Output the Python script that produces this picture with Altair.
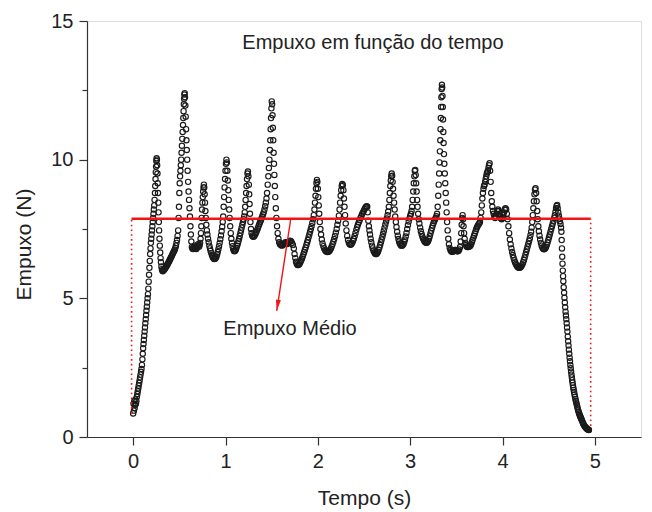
import altair as alt
import pandas as pd

# ---- data: (tempo [s], empuxo [N]) ----
subida = [(0.000,0.85),(0.004,1.2),(0.008,0.95),(0.012,1.3),(0.016,1.05),(0.020,1.15),(0.025,1.35),(0.030,1.2),
          (0.035,1.3),(0.040,1.45),(0.045,1.55),(0.050,1.65),(0.055,1.75),(0.060,1.85),(0.065,1.95),(0.070,2.05),
          (0.075,2.15),(0.080,2.25),(0.085,2.35),(0.090,2.45),(0.095,2.6),(0.100,2.8),(0.104,3.0),(0.108,3.2),
          (0.112,3.35),(0.116,3.5),(0.120,3.65),(0.124,3.8),(0.128,3.95),(0.132,4.1),(0.136,4.25),(0.140,4.4),
          (0.144,4.55),(0.148,4.7),(0.152,4.85),(0.156,5.0),(0.160,5.15),(0.164,5.35),(0.168,5.6),(0.172,5.85),
          (0.176,6.1),(0.180,6.35),(0.184,6.6),(0.188,6.8),(0.192,7.0),(0.196,7.15),(0.200,7.3),(0.204,7.45),
          (0.208,7.6),(0.212,7.75),(0.216,7.9),(0.220,8.05),(0.224,8.2),(0.228,8.35),(0.232,8.55)]

pico_1 = [(0.236,8.8),(0.239,9.05),(0.242,9.3),(0.245,9.55),(0.248,9.75),(0.251,9.95),(0.254,10.05),(0.257,10.0),
          (0.260,9.8),(0.263,9.5),(0.266,9.15),(0.269,8.8),(0.272,8.45),(0.275,8.1),(0.278,7.75),(0.281,7.45),
          (0.285,7.15),(0.289,6.9),(0.293,6.65),(0.297,6.45),(0.301,6.3),(0.306,6.15),(0.311,6.05),(0.316,6.0),
          (0.321,5.98),(0.326,6.0),(0.331,6.02),(0.337,6.04),(0.343,6.07),(0.349,6.1),(0.355,6.13),(0.361,6.16),
          (0.367,6.2),(0.373,6.23),(0.379,6.27),(0.385,6.31),(0.391,6.35),(0.397,6.39),(0.403,6.43),(0.409,6.47),
          (0.415,6.51),(0.421,6.55),(0.427,6.6),(0.433,6.64),(0.439,6.68),(0.445,6.72),(0.451,6.76),(0.457,6.82),
          (0.463,6.9),(0.469,7.0),(0.475,7.1),(0.481,7.25),(0.487,7.45)]

pico_2 = [(0.492,7.9),(0.496,8.3),(0.500,8.8),(0.504,9.15),(0.508,9.4),(0.512,9.6),(0.516,9.8),(0.520,10.0),
          (0.524,10.25),(0.528,10.5),(0.532,10.75),(0.536,11.0),(0.540,11.25),(0.543,11.5),(0.546,11.75),
          (0.549,12.0),(0.552,12.2),(0.555,12.35),(0.558,12.4),(0.561,12.25),(0.565,11.95),(0.569,11.55),
          (0.573,11.1),(0.577,10.7),(0.581,10.35),(0.585,10.0),(0.590,9.6),(0.595,9.2),(0.600,8.85),(0.605,8.55),
          (0.610,8.25),(0.615,7.95),(0.620,7.6),(0.625,7.3),(0.630,7.05)]

pico_3 = [(0.636,6.85),(0.642,6.8),(0.648,6.78),(0.654,6.82),(0.660,6.86),(0.666,6.9),(0.672,6.85),(0.678,6.8),
          (0.684,6.78),(0.690,6.82),(0.696,6.88),(0.702,6.95),(0.708,6.9),(0.714,6.86),(0.720,6.92),(0.725,7.0),
          (0.730,7.15),(0.734,7.35),(0.738,7.6),(0.742,7.9),(0.746,8.2),(0.750,8.45),(0.754,8.65),(0.758,8.85),
          (0.762,9.0),(0.766,9.1),(0.770,9.0),(0.774,8.75),(0.778,8.45),(0.782,8.15),(0.787,7.9),(0.792,7.65),
          (0.798,7.45),(0.804,7.3),(0.811,7.15),(0.818,7.02),(0.825,6.9),(0.832,6.8),(0.839,6.71),(0.846,6.63),
          (0.853,6.56),(0.860,6.5),(0.867,6.46),(0.874,6.43),(0.881,6.42),(0.888,6.43),(0.895,6.46),(0.902,6.51),
          (0.909,6.58),(0.916,6.67),(0.923,6.77),(0.930,6.88),(0.937,7.0),(0.944,7.13),(0.951,7.27),(0.958,7.42),
          (0.964,7.58),(0.970,7.75)]

pico_4_5 = [(0.975,7.95),(0.980,8.3),(0.985,8.65),(0.990,9.0),(0.995,9.3),(1.000,9.6),(1.005,9.85),(1.010,10.0),
            (1.015,9.9),(1.020,9.6),(1.025,9.25),(1.030,8.9),(1.035,8.55),(1.040,8.2),(1.045,7.9),(1.051,7.6),
            (1.057,7.35),(1.063,7.15),(1.070,7.0),(1.077,6.88),(1.084,6.78),(1.091,6.72),(1.098,6.7),(1.105,6.72),
            (1.112,6.76),(1.119,6.82),(1.126,6.9),(1.133,6.98),(1.140,7.06),(1.147,7.15),(1.154,7.25),(1.161,7.35),
            (1.168,7.45),(1.175,7.55),(1.182,7.65),(1.189,7.75),(1.196,7.85),(1.202,7.95),(1.208,8.1),(1.213,8.3),
            (1.218,8.55),(1.223,8.8),(1.228,9.05),(1.233,9.3),(1.238,9.5),(1.243,9.57),(1.248,9.4),(1.253,9.1),
            (1.257,8.75),(1.261,8.4),(1.265,8.05),(1.270,7.75),(1.276,7.5),(1.282,7.35),(1.289,7.27),(1.296,7.23),
            (1.303,7.22),(1.310,7.24),(1.318,7.28),(1.326,7.33),(1.334,7.39),(1.342,7.46),(1.350,7.53),(1.358,7.6),
            (1.366,7.67),(1.374,7.74),(1.382,7.81),(1.390,7.88),(1.398,7.95),(1.406,8.02),(1.414,8.1),(1.422,8.2),
            (1.430,8.32),(1.437,8.45),(1.444,8.6)]

pico_6 = [(1.450,8.8),(1.457,9.1),(1.464,9.4),(1.470,9.7),(1.476,10.0),(1.481,10.35),(1.485,10.7),(1.489,11.1),
          (1.493,11.5),(1.497,11.85),(1.501,12.1),(1.505,12.0),(1.509,11.6),(1.513,11.15),(1.517,10.7),(1.521,10.25),
          (1.525,9.85),(1.529,9.45),(1.534,9.05),(1.539,8.65),(1.545,8.25),(1.551,7.9),(1.558,7.6),(1.565,7.35),
          (1.573,7.15),(1.581,7.02),(1.590,6.95),(1.600,6.92),(1.610,6.9),(1.620,6.92),(1.630,6.95),(1.640,7.0),
          (1.650,7.02),(1.660,7.0),(1.670,6.96),(1.680,7.0),(1.690,7.05),(1.700,7.08),(1.710,7.06),(1.720,7.0),
          (1.730,6.92)]

pico_7_8 = [(1.740,6.8),(1.748,6.6),(1.756,6.45),(1.764,6.32),(1.772,6.25),(1.780,6.2),(1.788,6.2),(1.796,6.22),
            (1.804,6.26),(1.812,6.31),(1.820,6.37),(1.828,6.44),(1.836,6.51),(1.844,6.59),(1.852,6.67),(1.860,6.75),
            (1.868,6.83),(1.876,6.92),(1.884,7.01),(1.892,7.1),(1.900,7.2),(1.908,7.3),(1.916,7.4),(1.924,7.5),
            (1.932,7.6),(1.940,7.72),(1.948,7.85),(1.956,8.0),(1.963,8.2),(1.969,8.45),(1.975,8.7),(1.980,8.95),
            (1.985,9.15),(1.990,9.27),(1.995,9.2),(2.000,8.95),(2.005,8.65),(2.010,8.35),(2.015,8.05),(2.021,7.75),
            (2.028,7.5),(2.035,7.3),(2.043,7.12),(2.051,6.98),(2.060,6.88),(2.069,6.8),(2.078,6.74),(2.087,6.7),
            (2.096,6.68),(2.105,6.67),(2.114,6.68),(2.123,6.7),(2.132,6.74),(2.141,6.8),(2.150,6.87),(2.159,6.95),
            (2.168,7.04),(2.177,7.14),(2.186,7.25),(2.195,7.37),(2.204,7.5),(2.212,7.65),(2.220,7.8),(2.228,7.98),
            (2.235,8.2),(2.241,8.45),(2.247,8.7),(2.253,8.9),(2.259,9.05),(2.265,9.12),(2.271,9.08),(2.277,8.9),
            (2.283,8.6),(2.289,8.3),(2.295,8.0),(2.302,7.7),(2.310,7.45),(2.318,7.25),(2.327,7.1),(2.336,7.0),
            (2.345,6.95),(2.354,6.93),(2.363,6.95),(2.372,7.0)]

pico_9_11 = [(2.381,7.07),(2.390,7.15),(2.399,7.25),(2.408,7.36),(2.417,7.47),(2.426,7.57),(2.435,7.66),(2.444,7.74),
             (2.453,7.82),(2.462,7.9),(2.471,7.97),(2.480,8.04),(2.489,8.1),(2.498,8.16),(2.507,8.22),(2.515,8.27),
             (2.522,8.3),(2.529,8.32),(2.535,8.3),(2.541,8.1),(2.547,7.8),(2.553,7.6),(2.559,7.45),(2.565,7.3),
             (2.572,7.15),(2.579,7.02),(2.587,6.9),(2.595,6.8),(2.603,6.72),(2.611,6.66),(2.619,6.62),(2.627,6.6),
             (2.635,6.6),(2.643,6.63),(2.651,6.68),(2.659,6.75),(2.667,6.83),(2.675,6.92),(2.683,7.02),(2.691,7.12),
             (2.699,7.22),(2.707,7.33),(2.715,7.44),(2.723,7.55),(2.731,7.66),(2.739,7.77),(2.747,7.88),(2.755,8.0),
             (2.762,8.13),(2.769,8.3),(2.775,8.55),(2.780,8.8),(2.785,9.05),(2.790,9.25),(2.795,9.4),(2.800,9.5),
             (2.805,9.42),(2.810,9.2),(2.815,8.95),(2.820,8.7),(2.826,8.45),(2.832,8.2),(2.838,7.95),(2.845,7.75),
             (2.852,7.57),(2.859,7.4),(2.866,7.26),(2.873,7.14),(2.880,7.05),(2.888,6.98),(2.896,6.93),(2.904,6.9),
             (2.912,6.9),(2.920,6.92),(2.928,6.96),(2.936,7.03),(2.944,7.12),(2.952,7.23),(2.960,7.36),(2.968,7.5),
             (2.976,7.64),(2.984,7.77),(2.992,7.88),(3.000,7.97),(3.008,8.05),(3.015,8.15),(3.021,8.3),(3.027,8.55),
             (3.033,8.85),(3.039,9.15),(3.045,9.4),(3.050,9.6),(3.055,9.63),(3.060,9.45),(3.065,9.15),(3.070,8.85),
             (3.075,8.55),(3.080,8.3),(3.086,8.05),(3.093,7.85),(3.100,7.7),(3.108,7.55),(3.116,7.42),(3.124,7.32),
             (3.132,7.23),(3.140,7.16),(3.148,7.1),(3.156,7.05),(3.164,7.02),(3.172,7.0),(3.180,7.0),(3.188,7.03),
             (3.196,7.08),(3.204,7.15),(3.212,7.24),(3.220,7.34),(3.228,7.44),(3.236,7.54),(3.244,7.63),(3.252,7.71),
             (3.260,7.78),(3.268,7.84),(3.276,7.9),(3.284,7.96),(3.291,8.05)]

pico_12_13 = [(3.298,8.3),(3.304,8.7),(3.309,9.1),(3.314,9.5),(3.318,9.9),(3.322,10.3),(3.326,10.7),(3.329,11.1),
              (3.332,11.5),(3.335,11.9),(3.338,12.25),(3.341,12.55),(3.344,12.7),(3.347,12.6),(3.350,12.3),
              (3.353,11.9),(3.356,11.45),(3.359,11.0),(3.362,10.6),(3.366,10.2),(3.370,9.85),(3.375,9.5),
              (3.380,9.15),(3.385,8.8),(3.390,8.45),(3.395,8.1),(3.400,7.75),(3.406,7.45),(3.413,7.15),(3.420,6.95),
              (3.428,6.82),(3.436,6.74),(3.444,6.7),(3.452,6.68),(3.460,6.68),(3.468,6.7),(3.476,6.72),(3.484,6.74),
              (3.492,6.74),(3.500,6.72),(3.508,6.7),(3.516,6.7),(3.524,6.72),(3.532,6.76),(3.540,6.85),(3.547,7.05),
              (3.553,7.35),(3.558,7.65),(3.563,7.9),(3.568,8.0),(3.573,7.85),(3.578,7.6),(3.584,7.35),(3.590,7.15),
              (3.597,7.0),(3.604,6.92),(3.612,6.87),(3.620,6.85),(3.628,6.85),(3.636,6.86),(3.644,6.88),(3.652,6.9),
              (3.660,6.95),(3.668,7.02),(3.676,7.1),(3.684,7.18),(3.692,7.26),(3.700,7.34),(3.708,7.42),(3.716,7.5),
              (3.724,7.56),(3.732,7.62),(3.740,7.66),(3.748,7.7),(3.756,7.75),(3.763,7.9),(3.770,8.1),(3.776,8.35),
              (3.782,8.6),(3.788,8.8),(3.794,8.95),(3.800,9.05),(3.806,9.1),(3.812,9.2),(3.818,9.3),(3.824,9.4),
              (3.830,9.5),(3.836,9.55),(3.842,9.6),(3.848,9.7),(3.854,9.8),(3.860,9.87),(3.866,9.6),(3.872,9.2),
              (3.878,8.8),(3.884,8.5),(3.890,8.3),(3.897,8.15),(3.904,8.05),(3.912,7.95),(3.920,7.9),(3.928,7.95),
              (3.936,8.05),(3.944,8.15),(3.952,8.2),(3.960,8.15),(3.968,8.05),(3.976,7.95),(3.984,7.88),(3.992,7.85),
              (4.000,7.9),(4.008,8.0),(4.016,8.1),(4.024,8.2),(4.032,8.25),(4.040,8.2),(4.048,8.05),(4.056,7.85),
              (4.064,7.6),(4.072,7.35),(4.080,7.12)]

pico_14_15 = [(4.088,6.95),(4.096,6.8),(4.104,6.67),(4.112,6.56),(4.120,6.46),(4.128,6.37),(4.136,6.3),(4.144,6.24),
              (4.152,6.19),(4.160,6.15),(4.168,6.12),(4.176,6.1),(4.184,6.1),(4.192,6.11),(4.200,6.14),(4.208,6.18),
              (4.216,6.23),(4.224,6.3),(4.232,6.38),(4.240,6.47),(4.248,6.57),(4.256,6.67),(4.264,6.77),(4.272,6.87),
              (4.280,6.97),(4.288,7.07),(4.296,7.17),(4.303,7.28),(4.310,7.4),(4.316,7.55),(4.322,7.75),(4.328,8.0),
              (4.334,8.25),(4.340,8.5),(4.346,8.75),(4.352,8.92),(4.358,8.97),(4.364,8.8),(4.370,8.5),(4.376,8.15),
              (4.382,7.85),(4.388,7.6),(4.394,7.42),(4.401,7.26),(4.408,7.12),(4.416,7.0),(4.424,6.9),(4.432,6.83),
              (4.440,6.79),(4.448,6.77),(4.456,6.78),(4.464,6.81),(4.472,6.86),(4.480,6.93),(4.488,7.01),(4.496,7.1),
              (4.504,7.2),(4.512,7.3),(4.520,7.4),(4.528,7.5),(4.536,7.6),(4.544,7.7),(4.552,7.8),(4.560,7.9),
              (4.567,8.0),(4.574,8.12),(4.580,8.25),(4.586,8.33),(4.592,8.37)]

queda = [(4.598,8.25),(4.604,8.1),(4.610,7.98),(4.616,7.88),(4.622,7.78),(4.628,7.68),(4.634,7.55),(4.638,7.4),
         (4.641,7.1),(4.644,6.8),(4.647,6.5),(4.650,6.25),(4.653,6.0),(4.656,5.8),(4.659,5.62),(4.663,5.4),
         (4.667,5.2),(4.671,5.02),(4.675,4.85),(4.679,4.68),(4.683,4.52),(4.687,4.38),(4.691,4.25),(4.695,4.1),
         (4.699,3.95),(4.703,3.8),(4.707,3.62),(4.711,3.45),(4.715,3.3),(4.719,3.15),(4.723,3.0),(4.727,2.86),
         (4.731,2.73),(4.735,2.6),(4.739,2.48),(4.743,2.36),(4.747,2.25),(4.751,2.15),(4.755,2.05),(4.759,1.96),
         (4.763,1.87),(4.767,1.78),(4.771,1.7),(4.775,1.62),(4.780,1.53),(4.785,1.45),(4.790,1.37),(4.795,1.3),
         (4.800,1.23),(4.805,1.16),(4.810,1.09),(4.815,1.02),(4.820,0.96),(4.825,0.9),(4.830,0.85),(4.835,0.8),
         (4.840,0.76),(4.845,0.72),(4.850,0.68),(4.855,0.64),(4.860,0.6),(4.866,0.55),(4.872,0.5),(4.878,0.46),
         (4.884,0.42),(4.890,0.39),(4.896,0.36),(4.902,0.34),(4.908,0.32),(4.914,0.3),(4.920,0.28),(4.926,0.27),
         (4.932,0.26),(4.936,0.25)]

empuxo_medio = 7.87
t_inicio, t_fim = -0.017, 4.955
f_base_inicio, f_base_fim = 0.85, 0.4
seta = {"t0": 1.707, "f0": 7.87, "t1": 1.555, "f1": 4.55}
titulo_interno = {"t": 2.597, "f": 13.98, "texto": "Empuxo em função do tempo"}
rotulo_medio = {"t": 1.699, "f": 3.68, "texto": "Empuxo Médio"}
x_ticks = [0, 0.5, 1, 1.5, 2, 2.5, 3, 3.5, 4, 4.5, 5]
y_ticks = [0, 2.5, 5, 7.5, 10, 12.5, 15]

FONT = "Liberation Sans"
RED = "#f01414"
INK = "#1a1a1a"

pontos = subida + pico_1 + pico_2 + pico_3 + pico_4_5 + pico_6 + pico_7_8 + pico_9_11 + pico_12_13 + pico_14_15 + queda
df = pd.DataFrame(pontos, columns=["tempo", "empuxo"])

x_scale = alt.Scale(domain=[-0.5, 5.5], nice=False, zero=False)
y_scale = alt.Scale(domain=[0, 15], nice=False, zero=True)

x_axis = alt.Axis(
    values=x_ticks, format="d", labelExpr="datum.value % 1 ? '' : datum.label", grid=False,
    tickSize={"condition": {"test": "datum.value % 1 !== 0", "value": 4}, "value": 8},
    tickColor="#333333", tickWidth=1.2, domainColor="#333333", domainWidth=1.2,
    labelFont=FONT, labelFontSize=20, labelColor="#222222", labelPadding=6, labelFlush=False,
    title="Tempo (s)", titleFont=FONT, titleFontSize=21, titleFontWeight="normal", titleColor="#222222",
    titleY=67, titleBaseline="alphabetic",
)
y_axis = alt.Axis(
    values=y_ticks, format="d", labelExpr="datum.value % 5 ? '' : datum.label", grid=False,
    tickSize={"condition": {"test": "datum.value % 5 !== 0", "value": 5}, "value": 8},
    tickColor="#333333", tickWidth=1.2, domainColor="#333333", domainWidth=1.2,
    labelFont=FONT, labelFontSize=20, labelColor="#222222", labelPadding=6, labelFlush=False,
    title="Empuxo (N)", titleFont=FONT, titleFontSize=21, titleFontWeight="normal", titleColor="#222222",
    titleX=-57, titleY=223, titleBaseline="alphabetic", titleAngle=-90,
)

scatter = alt.Chart(df).mark_point(
    shape="circle", filled=False, size=28, color=INK, strokeWidth=1.15, opacity=1
).encode(
    x=alt.X("tempo:Q", scale=x_scale, axis=x_axis),
    y=alt.Y("empuxo:Q", scale=y_scale, axis=y_axis),
)

df_media = pd.DataFrame({"t0": [t_inicio], "t1": [t_fim], "f": [empuxo_medio]})
linha_media = alt.Chart(df_media).mark_rule(color=RED, strokeWidth=2.6).encode(
    x="t0:Q", x2="t1:Q", y="f:Q")

df_vert = pd.DataFrame({"t": [t_inicio, t_fim], "f0": [f_base_inicio, f_base_fim],
                        "f1": [empuxo_medio, empuxo_medio]})
verticais = alt.Chart(df_vert).mark_rule(color=RED, strokeWidth=1.6, strokeDash=[1.6, 3.2]).encode(
    x="t:Q", y="f0:Q", y2="f1:Q")

df_seta = pd.DataFrame([seta])
haste = alt.Chart(df_seta).mark_rule(color=RED, strokeWidth=1.4).encode(
    x="t0:Q", y="f0:Q", x2="t1:Q", y2="f1:Q")
ponta = alt.Chart(df_seta).mark_point(
    shape="M0,0L-0.5,-2.2L0.5,-2.2Z", filled=True, color=RED, size=100, angle=8.8, opacity=1
).encode(x="t1:Q", y="f1:Q")

df_titulo = pd.DataFrame([titulo_interno])
titulo = alt.Chart(df_titulo).mark_text(
    font=FONT, fontSize=20, color="#222222", align="center", baseline="alphabetic"
).encode(x="t:Q", y="f:Q", text="texto:N")

df_rotulo = pd.DataFrame([rotulo_medio])
rotulo = alt.Chart(df_rotulo).mark_text(
    font=FONT, fontSize=20, color="#222222", align="center", baseline="alphabetic"
).encode(x="t:Q", y="f:Q", text="texto:N")

chart = alt.layer(scatter, verticais, linha_media, haste, ponta, titulo, rotulo).properties(
    width=554, height=416,
    padding={"left": 79, "top": 13, "right": 1, "bottom": 75},
    autosize=alt.AutoSizeParams(type="none"),
).configure_view(
    stroke="#333333", strokeWidth=1.3
).configure(background="white")

chart.save("out.html", embed_options={"renderer": "svg", "actions": False})
